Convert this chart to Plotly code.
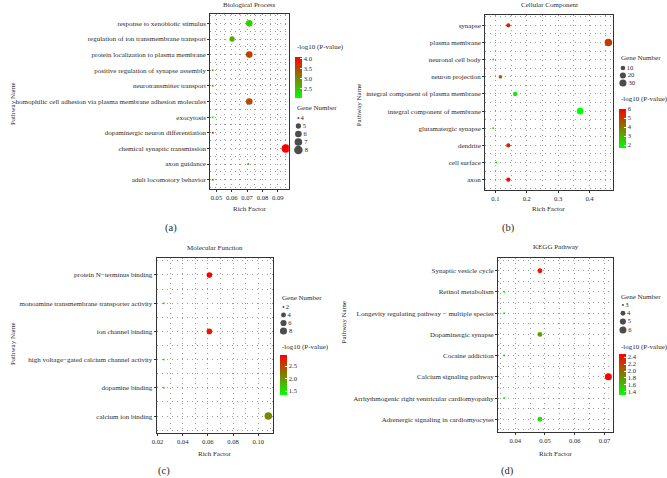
import math
import plotly.graph_objects as go

W, H = 667, 478

# ---------------- data (bottom-to-top order, alphabetical) ----------------
bp_terms = ["adult locomotory behavior", "axon guidance", "chemical synaptic transmission",
            "dopaminergic neuron differentiation", "exocytosis",
            "homophilic cell adhesion via plasma membrane adhesion molecules",
            "neurotransmitter transport", "positive regulation of synapse assembly",
            "protein localization to plasma membrane", "regulation of ion transmembrane transport",
            "response to xenobiotic stimulus"]
bp_rich = [0.0476, 0.0708, 0.0952, 0.0476, 0.0476, 0.0714, 0.0476, 0.0476, 0.0714, 0.0602, 0.0714]
bp_logp = [3.2, 2.6, 4.1, 4.0, 2.03, 3.5, 2.8, 2.8, 3.6, 2.7, 2.4]
bp_genes = [4, 4, 8, 4, 4, 6, 4, 4, 6, 5, 6]

cc_terms = ["axon", "cell surface", "dendrite", "glutamatergic synapse",
            "integral component of membrane", "integral component of plasma membrane",
            "neuron projection", "neuronal cell body", "plasma membrane", "synapse"]
cc_rich = [0.141, 0.103, 0.141, 0.093, 0.37, 0.163, 0.116, 0.093, 0.46, 0.141]
cc_logp = [6.0, 1.8, 5.5, 1.9, 1.68, 2.0, 4.3, 2.0, 5.0, 5.4]
cc_genes = [8, 3, 8, 3, 27, 9, 6, 3, 34, 8]

mf_terms = ["calcium ion binding", "dopamine binding",
            "high voltage\u2212gated calcium channel activity", "ion channel binding",
            "monoamine transmembrane transporter activity", "protein N\u2212terminus binding"]
mf_rich = [0.108, 0.025, 0.025, 0.0612, 0.025, 0.0612]
mf_logp = [2.1, 1.36, 1.34, 2.8, 1.38, 2.94]
mf_genes = [9, 2, 2, 5, 2, 5]

kegg_terms = ["Adrenergic signaling in cardiomyocytes",
              "Arrhythmogenic right ventricular cardiomyopathy",
              "Calcium signaling pathway", "Cocaine addiction", "Dopaminergic synapse",
              "Longevity regulating pathway \u2212 multiple species", "Retinol metabolism",
              "Synaptic vesicle cycle"]
kegg_rich = [0.0483, 0.0363, 0.0713, 0.0363, 0.0483, 0.0363, 0.0363, 0.0483]
kegg_logp = [1.45, 1.31, 2.49, 1.6, 1.75, 1.35, 1.35, 2.4]
kegg_genes = [4, 3, 6, 3, 4, 3, 3, 4]

panel_titles = ["Biological Process", "Cellular Component", "Molecular Function", "KEGG Pathway"]
panel_tags = ["(a)", "(b)", "(c)", "(d)"]
size_breaks = [[4, 5, 6, 7, 8], [10, 20, 30], [2, 4, 6, 8], [3, 4, 5, 6]]
color_dticks = [0.5, 1, 0.5, 0.2]
x_dticks = [0.01, 0.1, 0.02, 0.01]
x_formats = [".2f", ".1f", ".2f", ".2f"]

# ---------------- layout geometry (pixels) ----------------
plot_boxes = [(207, 286, 14, 189), (484, 613, 15, 190), (153, 270, 258, 433), (497, 613, 258, 432)]
x_ranges = [(0.0461, 0.0972), (0.068, 0.476), (0.0195, 0.1117), (0.0343, 0.073)]
size_px = [(2, 8.5), (2, 7.5), (2, 7.5), (2, 7)]
cbar_geo = [(292, 57, 41), (619, 109, 39), (277, 355, 40), (619, 354, 41)]  # x, top, len
cbar_title_y = [47, 99, 347, 347]
size_leg_geo = [(292, 108, 118, 8), (619, 58, 68, 7.5), (277, 298, 307, 8), (619, 297, 305, 8.3)]
ylab_pos = [(8, 103), (357, 105), (8, 343), (342, 322)]
xlab_y = [209, 209, 454, 454]
tag_pos = [(167, 228), (507, 228), (160, 471), (506, 471)]
title_y = [5, 5, 248, 247]

FONT = "Liberation Serif"
FS = 7.0      # general text
FS_Y = 7.0    # pathway labels
FS_N = 6.6    # numbers
TXT = "#2b2b2b"


def px_x(p):
    return p / W


def px_y(p):
    return 1 - p / H


def diam(v, vmin, vmax, dmin, dmax):
    f = 0 if vmax == vmin else (v - vmin) / (vmax - vmin)
    f = min(max(f, 0), 1)
    return dmin + (dmax - dmin) * math.sqrt(f)


fig = go.Figure()
annotations = []

datasets = [
    (bp_terms, bp_rich, bp_logp, bp_genes),
    (cc_terms, cc_rich, cc_logp, cc_genes),
    (mf_terms, mf_rich, mf_logp, mf_genes),
    (kegg_terms, kegg_rich, kegg_logp, kegg_genes),
]

grid_style = dict(gridcolor="#9a9a9a", gridwidth=0.7, griddash="1px,4px")

for i, (terms, rich, logp, genes) in enumerate(datasets):
    k = i + 1
    xa = "x" if k == 1 else f"x{k}"
    ya = "y" if k == 1 else f"y{k}"
    ca = "coloraxis" if k == 1 else f"coloraxis{k}"
    gmin, gmax = min(genes), max(genes)
    dmin, dmax = size_px[i]
    sizes = [diam(g, gmin, gmax, dmin, dmax) for g in genes]
    ypos = list(range(len(terms)))

    fig.add_trace(go.Scatter(
        x=rich, y=ypos, mode="markers", xaxis=xa, yaxis=ya, showlegend=False,
        marker=dict(size=sizes, color=logp, coloraxis=ca, line=dict(width=0), opacity=1),
        hoverinfo="skip"))

    x0, x1, y0, y1 = plot_boxes[i]
    xdom = [px_x(x0), px_x(x1)]
    ydom = [px_y(y1), px_y(y0)]
    n = len(terms)
    xr = x_ranges[i]
    xd = x_dticks[i]
    fig.layout[f"xaxis{'' if k == 1 else k}"] = dict(
        domain=xdom, anchor=ya, range=list(xr), dtick=xd, tick0=0,
        tickformat=x_formats[i], ticks="outside", ticklen=2, tickcolor="#333",
        showline=True, mirror=True, linecolor="#333", linewidth=1.3,
        showgrid=True, zeroline=False,
        tickfont=dict(family=FONT, size=FS_N, color=TXT),
        minor=dict(dtick=xd / 2, tick0=0, showgrid=True, **grid_style),
        **grid_style)
    fig.layout[f"yaxis{'' if k == 1 else k}"] = dict(
        domain=ydom, anchor=xa, range=[-0.6, n - 1 + 0.6],
        tickmode="array", tickvals=ypos, ticktext=terms,
        ticks="outside", ticklen=2, tickcolor="#333",
        showline=True, mirror=True, linecolor="#333", linewidth=1.3,
        showgrid=True, zeroline=False,
        tickfont=dict(family=FONT, size=FS_Y, color=TXT),
        minor=dict(dtick=1, tick0=0.5, showgrid=True, **grid_style),
        **grid_style)

    # colour axis / colourbar
    cx, ctop, clen = cbar_geo[i]
    fig.layout[ca] = dict(
        cmin=min(logp), cmax=max(logp),
        colorscale=[[0, "#00FF00"], [1, "#FF0000"]],
        colorbar=dict(
            x=px_x(cx), xanchor="left", y=px_y(ctop), yanchor="top",
            len=clen, lenmode="pixels", thickness=7, thicknessmode="pixels",
            xpad=0, ypad=0, outlinewidth=0,
            ticks="inside", ticklen=2, tickcolor="white", tickwidth=1,
            dtick=color_dticks[i], tick0=0,
            tickformat=".1f" if color_dticks[i] < 1 else "d",
            tickfont=dict(family=FONT, size=FS_N, color=TXT)))
    annotations.append(dict(text="-log10 (P-value)", x=px_x(cx), y=px_y(cbar_title_y[i]),
                            xref="paper", yref="paper", xanchor="left", yanchor="middle",
                            showarrow=False, font=dict(family=FONT, size=FS, color=TXT)))

    # size legend on a hidden helper axis
    lx, ltitle_y, lfirst_y, lstep = size_leg_geo[i]
    brks = size_breaks[i]
    nb = len(brks)
    lk = k + 4
    top = lfirst_y - lstep / 2
    bot = lfirst_y + lstep * (nb - 0.5)
    fig.layout[f"xaxis{lk}"] = dict(domain=[px_x(lx), px_x(lx + 30)], range=[0, 1],
                                    visible=False, anchor=f"y{lk}", fixedrange=True)
    fig.layout[f"yaxis{lk}"] = dict(domain=[px_y(bot), px_y(top)], range=[nb - 0.5, -0.5],
                                    visible=False, anchor=f"x{lk}", fixedrange=True)
    fig.add_trace(go.Scatter(
        x=[0.12] * nb, y=list(range(nb)), mode="markers+text", xaxis=f"x{lk}", yaxis=f"y{lk}",
        text=[str(b) for b in brks], textposition="middle right",
        textfont=dict(family=FONT, size=FS_N, color=TXT),
        marker=dict(size=[diam(b, gmin, gmax, dmin, dmax) for b in brks], color="black",
                    line=dict(width=0)),
        showlegend=False, hoverinfo="skip", cliponaxis=False))
    annotations.append(dict(text="Gene Number", x=px_x(lx), y=px_y(ltitle_y),
                            xref="paper", yref="paper", xanchor="left", yanchor="middle",
                            showarrow=False, font=dict(family=FONT, size=FS, color=TXT)))

    # titles and labels
    cxp = (x0 + x1) / 2
    annotations.append(dict(text=panel_titles[i], x=px_x(cxp), y=px_y(title_y[i]),
                            xref="paper", yref="paper", xanchor="center", yanchor="middle",
                            showarrow=False, font=dict(family=FONT, size=FS, color=TXT)))
    annotations.append(dict(text="Rich Factor", x=px_x(cxp), y=px_y(xlab_y[i]),
                            xref="paper", yref="paper", xanchor="center", yanchor="middle",
                            showarrow=False, font=dict(family=FONT, size=FS, color=TXT)))
    annotations.append(dict(text="Pathway Name", x=px_x(ylab_pos[i][0]), y=px_y(ylab_pos[i][1]),
                            xref="paper", yref="paper", xanchor="center", yanchor="middle",
                            textangle=-90, showarrow=False,
                            font=dict(family=FONT, size=FS, color=TXT)))
    annotations.append(dict(text=panel_tags[i], x=px_x(tag_pos[i][0]), y=px_y(tag_pos[i][1]),
                            xref="paper", yref="paper", xanchor="center", yanchor="middle",
                            showarrow=False, font=dict(family=FONT, size=10.5, color=TXT)))

fig.update_layout(
    width=W, height=H, margin=dict(l=0, r=0, t=0, b=0),
    paper_bgcolor="white", plot_bgcolor="white",
    showlegend=False, annotations=annotations,
    font=dict(family=FONT, size=FS, color=TXT))

fig.write_html("out.html", config={"displayModeBar": False},
               post_script="document.body.style.margin='0';document.body.style.overflow='hidden';")
